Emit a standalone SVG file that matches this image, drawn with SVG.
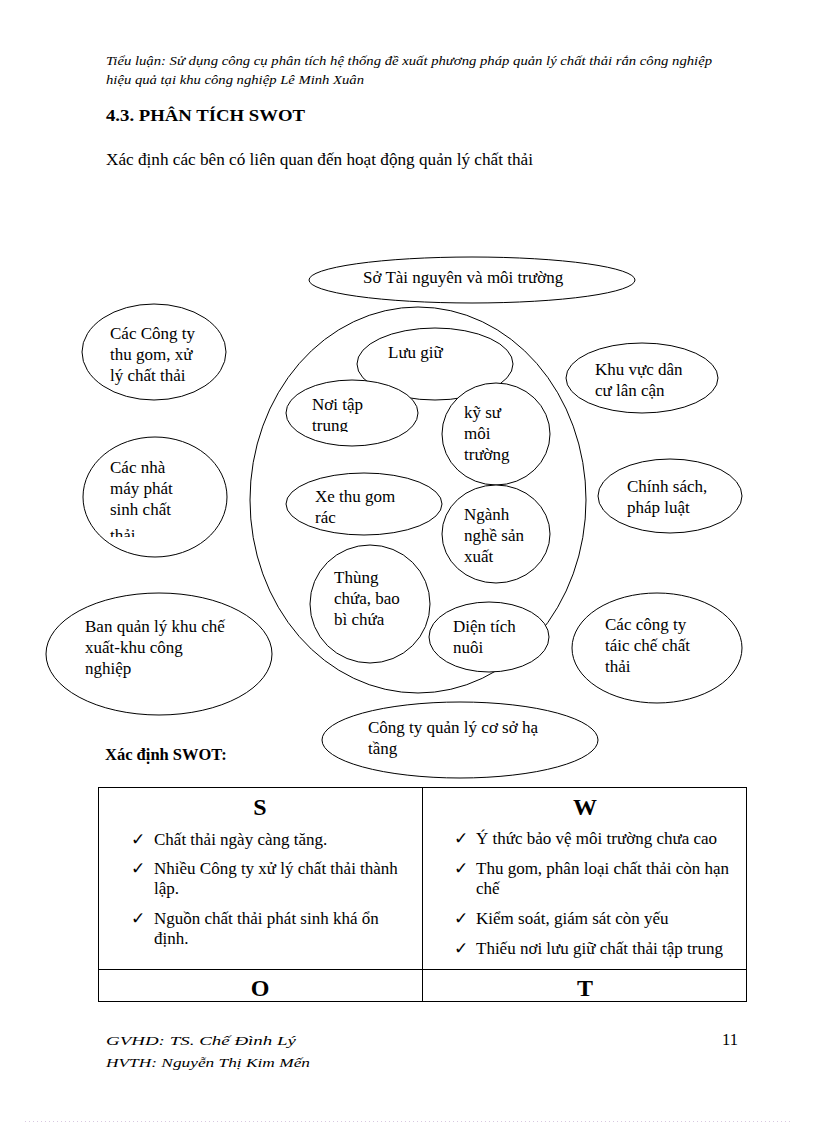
<svg xmlns="http://www.w3.org/2000/svg" width="816" height="1123" viewBox="0 0 816 1123">
<style>
text{font-family:"Liberation Serif","Times New Roman",serif;fill:#000}
.t{font-size:17px}
.n{font-size:17px}
.it{font-style:italic;font-size:13.5px}
.b{font-weight:bold}
.sh{fill:#fff;stroke:#000;stroke-width:1}
.ln{stroke:#000;stroke-width:1;fill:none}
.h{font-weight:bold;font-size:24px;text-anchor:middle}
</style>
<defs>
<clipPath id="c1"><rect x="100" y="450" width="120" height="87"/></clipPath>
<clipPath id="c2"><rect x="300" y="390" width="110" height="42"/></clipPath>
</defs>
<rect width="816" height="1123" fill="#fff"/>

<g id="header">
<text class="it" x="106" y="65" textLength="606" lengthAdjust="spacingAndGlyphs">Tiểu luận: Sử dụng công cụ phân tích hệ thống đề xuất phương pháp quản lý chất thải rắn công nghiệp</text>
<text class="it" x="106" y="84" textLength="258" lengthAdjust="spacingAndGlyphs">hiệu quả tại khu công nghiệp Lê Minh Xuân</text>
<text class="b" x="106" y="121" font-size="17.5" textLength="199" lengthAdjust="spacingAndGlyphs">4.3. PHÂN TÍCH SWOT</text>
<text class="t" x="106" y="165" textLength="427" lengthAdjust="spacingAndGlyphs">Xác định các bên có liên quan đến hoạt động quản lý chất thải</text>
</g>

<g id="n-so">
<ellipse class="sh" cx="472" cy="280" rx="163" ry="23"/>
<text class="n" x="363" y="283">Sở Tài nguyên và môi trường</text>
</g>
<g id="n-big">
<ellipse class="sh" cx="418" cy="500" rx="168" ry="193"/>
</g>
<g id="n-luugiu">
<ellipse class="sh" cx="435" cy="364" rx="78" ry="36"/>
<text class="n" x="388" y="358">Lưu giữ</text>
</g>
<g id="n-noitaptrung">
<ellipse class="sh" cx="352" cy="413" rx="66" ry="33"/>
<text class="n" clip-path="url(#c2)"><tspan x="312" y="410">Nơi tập</tspan><tspan x="312" y="431">trung</tspan></text>
</g>
<g id="n-kysu">
<ellipse class="sh" cx="496" cy="434" rx="54" ry="51"/>
<text class="n"><tspan x="464" y="418">kỹ sư</tspan><tspan x="464" y="439">môi</tspan><tspan x="464" y="460">trường</tspan></text>
</g>
<g id="n-xethugom">
<ellipse class="sh" cx="364" cy="504" rx="78" ry="31"/>
<text class="n"><tspan x="315" y="502">Xe thu gom</tspan><tspan x="315" y="523">rác</tspan></text>
</g>
<g id="n-nganhnghe">
<ellipse class="sh" cx="496" cy="534" rx="54" ry="49"/>
<text class="n"><tspan x="464" y="520">Ngành</tspan><tspan x="464" y="541">nghề sản</tspan><tspan x="464" y="562">xuất</tspan></text>
</g>
<g id="n-thungchua">
<ellipse class="sh" cx="370" cy="604" rx="60" ry="59"/>
<text class="n"><tspan x="334" y="583">Thùng</tspan><tspan x="334" y="604">chứa, bao</tspan><tspan x="334" y="625">bì chứa</tspan></text>
</g>
<g id="n-dientich">
<ellipse class="sh" cx="489" cy="637" rx="60" ry="35"/>
<text class="n"><tspan x="453" y="632">Diện tích</tspan><tspan x="453" y="653">nuôi</tspan></text>
</g>

<g id="n-congtythugom">
<ellipse class="sh" cx="154" cy="352" rx="72" ry="48"/>
<text class="n"><tspan x="110" y="339">Các Công ty</tspan><tspan x="110" y="360">thu gom, xử</tspan><tspan x="110" y="381">lý chất thải</tspan></text>
</g>
<g id="n-nhamay">
<ellipse class="sh" cx="155" cy="497" rx="72" ry="60"/>
<text class="n" clip-path="url(#c1)"><tspan x="110" y="473">Các nhà</tspan><tspan x="110" y="494">máy phát</tspan><tspan x="110" y="515">sinh chất</tspan><tspan x="110" y="541">thải</tspan></text>
</g>
<g id="n-banquanly">
<ellipse class="sh" cx="159" cy="654" rx="113" ry="61"/>
<text class="n"><tspan x="85" y="632">Ban quản lý khu chế</tspan><tspan x="85" y="653">xuất-khu  công</tspan><tspan x="85" y="674">nghiệp</tspan></text>
</g>
<g id="n-khuvuc">
<ellipse class="sh" cx="642" cy="378" rx="76" ry="35"/>
<text class="n"><tspan x="595" y="375">Khu vực dân</tspan><tspan x="595" y="396">cư lân cận</tspan></text>
</g>
<g id="n-chinhsach">
<ellipse class="sh" cx="670" cy="496" rx="72" ry="37"/>
<text class="n"><tspan x="627" y="492">Chính sách,</tspan><tspan x="627" y="513">pháp luật</tspan></text>
</g>
<g id="n-taiche">
<ellipse class="sh" cx="657" cy="648" rx="85" ry="55"/>
<text class="n"><tspan x="605" y="630">Các công ty</tspan><tspan x="605" y="651">táic chế chất</tspan><tspan x="605" y="672">thải</tspan></text>
</g>
<g id="n-hatang">
<ellipse class="sh" cx="460" cy="740" rx="138" ry="38"/>
<text class="n"><tspan x="368" y="733">Công ty quản lý cơ sở hạ</tspan><tspan x="368" y="754">tầng</tspan></text>
</g>

<g id="connectors"></g>

<g id="swot">
<text class="b" x="105" y="760" font-size="16.5">Xác định SWOT:</text>
<rect class="ln" x="98.5" y="787.5" width="648" height="214"/>
<line class="ln" x1="422.5" y1="787.5" x2="422.5" y2="1001.5"/>
<line class="ln" x1="98.5" y1="969.5" x2="746.5" y2="969.5"/>
<text class="h" x="260" y="815">S</text>
<text class="h" x="585" y="815">W</text>
<text class="h" x="260" y="996">O</text>
<text class="h" x="585" y="996">T</text>
<text class="t" x="131" y="845">✓</text>
<text class="t" x="154" y="845">Chất thải ngày càng tăng.</text>
<text class="t" x="131" y="874">✓</text>
<text class="t" x="154" y="874">Nhiều Công ty xử lý chất thải thành</text>
<text class="t" x="154" y="894">lập.</text>
<text class="t" x="131" y="924">✓</text>
<text class="t" x="154" y="924">Nguồn chất thải phát sinh khá ổn</text>
<text class="t" x="154" y="944">định.</text>
<text class="t" x="454" y="844">✓</text>
<text class="t" x="476" y="844">Ý thức bảo vệ môi trường chưa cao</text>
<text class="t" x="454" y="874">✓</text>
<text class="t" x="476" y="874">Thu gom, phân loại chất thải còn hạn</text>
<text class="t" x="476" y="894">chế</text>
<text class="t" x="454" y="924">✓</text>
<text class="t" x="476" y="924">Kiểm soát, giám sát còn yếu</text>
<text class="t" x="454" y="954">✓</text>
<text class="t" x="476" y="954">Thiếu nơi lưu giữ chất thải tập trung</text>
</g>

<g id="footer">
<text class="it" x="106" y="1045" font-size="16" textLength="190" lengthAdjust="spacingAndGlyphs">GVHD: TS. Chế Đình Lý</text>
<text class="it" x="106" y="1067" font-size="16" textLength="204" lengthAdjust="spacingAndGlyphs">HVTH: Nguyễn Thị Kim Mến</text>
<text x="722" y="1045" font-size="16.5">11</text>
<line x1="25" y1="1121.5" x2="793" y2="1121.5" stroke="#d8c8e0" stroke-width="1" stroke-dasharray="1,3"/>
</g>
</svg>
